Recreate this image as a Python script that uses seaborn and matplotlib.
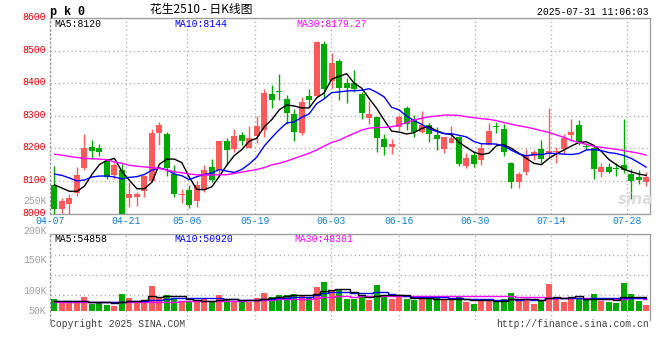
import numpy as np
import seaborn as sns
import matplotlib.pyplot as plt
from matplotlib.transforms import ScaledTranslation

sns.set_theme(style="white")
plt.rcParams['font.family'] = ['Liberation Mono', 'Noto Sans CJK SC', 'DejaVu Sans']

dates = ['04-07', '04-08', '04-09', '04-10', '04-11', '04-14', '04-15', '04-16', '04-17', '04-18',
         '04-21', '04-22', '04-23', '04-24', '04-25', '04-28', '04-29', '04-30', '05-06', '05-07',
         '05-08', '05-09', '05-12', '05-13', '05-14', '05-15', '05-16', '05-19', '05-20', '05-21',
         '05-22', '05-23', '05-26', '05-27', '05-28', '05-29', '05-30', '06-03', '06-04', '06-05',
         '06-06', '06-09', '06-10', '06-11', '06-12', '06-13', '06-16', '06-17', '06-18', '06-19',
         '06-20', '06-23', '06-24', '06-25', '06-26', '06-27', '06-30', '07-01', '07-02', '07-03',
         '07-04', '07-07', '07-08', '07-09', '07-10', '07-11', '07-14', '07-15', '07-16', '07-17',
         '07-18', '07-21', '07-22', '07-23', '07-24', '07-25', '07-28', '07-29', '07-30', '07-31']
date_ticks = ['04-07', '04-21', '05-06', '05-19', '06-03', '06-16', '06-30', '07-14', '07-28']

opens = [8089, 8014, 8030, 8064, 8140, 8204, 8201, 8161, 8119, 8133,
         8048, 8051, 8069, 8100, 8246, 8243, 8122, 8057, 8072, 8039,
         8072, 8143, 8133, 8222, 8198, 8241, 8202, 8238, 8256, 8367,
         8376, 8350, 8305, 8248, 8361, 8362, 8520, 8407, 8468, 8400,
         8400, 8366, 8294, 8295, 8230, 8205, 8266, 8323, 8289, 8251,
         8272, 8241, 8198, 8217, 8236, 8147, 8179, 8164, 8210, 8269,
         8259, 8156, 8097, 8128, 8177, 8198, 8183, 8190, 8198, 8241,
         8272, 8208, 8200, 8128, 8142, 8140, 8149, 8120, 8113, 8097]
highs = [8146, 8049, 8060, 8142, 8243, 8226, 8213, 8164, 8155, 8151,
         8097, 8066, 8117, 8258, 8280, 8251, 8149, 8074, 8087, 8100,
         8149, 8167, 8222, 8233, 8259, 8251, 8268, 8299, 8382, 8394,
         8428, 8364, 8320, 8357, 8381, 8528, 8530, 8494, 8473, 8417,
         8441, 8374, 8345, 8299, 8244, 8230, 8302, 8330, 8303, 8315,
         8279, 8267, 8236, 8269, 8238, 8185, 8188, 8215, 8279, 8282,
         8274, 8158, 8128, 8197, 8195, 8226, 8323, 8205, 8244, 8289,
         8287, 8215, 8208, 8156, 8156, 8154, 8289, 8138, 8135, 8126]
lows = [7995, 8002, 7995, 8053, 8135, 8168, 8177, 8106, 8106, 7995,
        8020, 8023, 8051, 8097, 8210, 8116, 8052, 8033, 8018, 8020,
        8066, 8097, 8115, 8149, 8190, 8210, 8202, 8215, 8236, 8323,
        8348, 8275, 8223, 8241, 8326, 8359, 8353, 8384, 8348, 8340,
        8372, 8289, 8274, 8190, 8181, 8182, 8256, 8256, 8236, 8246,
        8220, 8195, 8185, 8217, 8147, 8140, 8144, 8149, 8210, 8246,
        8177, 8077, 8077, 8118, 8164, 8156, 8174, 8154, 8183, 8223,
        8210, 8195, 8106, 8111, 8125, 8116, 8125, 8046, 8090, 8084]
closes = [8014, 8038, 8048, 8118, 8201, 8193, 8188, 8113, 8149, 8000,
          8059, 8059, 8115, 8248, 8272, 8140, 8059, 8060, 8026, 8087,
          8135, 8102, 8222, 8195, 8238, 8222, 8233, 8268, 8371, 8348,
          8372, 8307, 8251, 8343, 8348, 8525, 8383, 8463, 8386, 8386,
          8381, 8309, 8305, 8233, 8205, 8212, 8295, 8275, 8251, 8272,
          8244, 8229, 8234, 8233, 8152, 8169, 8152, 8200, 8253, 8264,
          8188, 8097, 8121, 8176, 8190, 8167, 8192, 8192, 8233, 8251,
          8220, 8205, 8136, 8142, 8128, 8137, 8135, 8100, 8103, 8111]

ma5 = [8088, 8078, 8068, 8068, 8084, 8120, 8150, 8163, 8169, 8129,
       8102, 8076, 8076, 8096, 8151, 8167, 8167, 8156, 8111, 8074,
       8073, 8082, 8114, 8148, 8178, 8196, 8222, 8231, 8266, 8288,
       8318, 8333, 8330, 8324, 8324, 8355, 8370, 8412, 8421, 8429,
       8400, 8385, 8353, 8323, 8287, 8253, 8250, 8244, 8248, 8261,
       8267, 8254, 8246, 8242, 8218, 8203, 8188, 8181, 8185, 8208,
       8211, 8200, 8185, 8169, 8154, 8150, 8169, 8183, 8195, 8207,
       8218, 8220, 8209, 8191, 8166, 8150, 8136, 8128, 8121, 8117]
ma10 = [8121, 8117, 8109, 8100, 8103, 8112, 8115, 8115, 8112, 8106,
        8111, 8113, 8120, 8133, 8140, 8134, 8121, 8116, 8104, 8113,
        8120, 8124, 8135, 8130, 8126, 8135, 8152, 8173, 8207, 8233,
        8257, 8278, 8281, 8295, 8306, 8337, 8352, 8371, 8373, 8376,
        8377, 8378, 8383, 8372, 8358, 8326, 8318, 8299, 8285, 8274,
        8260, 8252, 8245, 8245, 8240, 8235, 8221, 8214, 8214, 8213,
        8207, 8194, 8183, 8177, 8181, 8181, 8185, 8184, 8182, 8181,
        8184, 8195, 8196, 8193, 8187, 8184, 8178, 8169, 8156, 8142]
ma30 = [8182, 8179, 8175, 8172, 8169, 8168, 8167, 8165, 8158, 8154,
        8148, 8145, 8143, 8141, 8138, 8133, 8128, 8125, 8121, 8119,
        8118, 8118, 8119, 8119, 8123, 8127, 8131, 8135, 8141, 8149,
        8154, 8161, 8169, 8177, 8185, 8195, 8207, 8218, 8225, 8236,
        8246, 8256, 8262, 8264, 8264, 8266, 8272, 8279, 8287, 8292,
        8297, 8299, 8302, 8302, 8301, 8297, 8294, 8291, 8289, 8285,
        8279, 8274, 8269, 8265, 8260, 8254, 8249, 8241, 8234, 8224,
        8218, 8212, 8206, 8203, 8200, 8197, 8193, 8189, 8185, 8179]

volume = [47700, 30500, 30500, 39800, 55700, 27800, 30500, 23900, 19900, 67600,
          51700, 30500, 39800, 99400, 55700, 63600, 47700, 34500, 34500, 43700,
          47700, 34500, 63600, 47700, 39800, 37100, 37100, 51700, 72900, 55700,
          63600, 63600, 67600, 61000, 55700, 96700, 116600, 83500, 83500, 47700,
          47700, 63600, 43700, 103400, 57000, 47700, 63600, 47700, 43700, 55700,
          47700, 53000, 43700, 43700, 59600, 35800, 27800, 47700, 43700, 35800,
          47700, 71600, 39800, 47700, 27800, 39800, 107300, 55700, 35800, 47700,
          47700, 43700, 67600, 39800, 35800, 31800, 111300, 67600, 39800, 23900]
vol_ma5 = [41000, 40000, 39500, 40000, 40840, 36860, 36860, 35540, 31560, 33940,
           38720, 38720, 41900, 57800, 55420, 57800, 61240, 60180, 47200, 44800,
           41620, 38980, 44800, 47440, 46660, 44540, 45060, 42680, 47720, 50900,
           56200, 61500, 64680, 62300, 62300, 68920, 79520, 82700, 87200, 85600,
           75800, 65200, 57240, 61220, 63080, 63080, 63080, 63880, 51940, 51680,
           51680, 49560, 48760, 48760, 49540, 47160, 42120, 42920, 42920, 38160,
           40540, 49300, 47720, 48520, 46920, 45340, 52480, 55660, 53280, 57260,
           58840, 46120, 48500, 49300, 46920, 43740, 57260, 57260, 57260, 54880]
vol_ma10 = [39000, 38500, 38000, 37800, 38000, 37500, 37200, 37000, 36800, 37390,
            37790, 37790, 38720, 44680, 44680, 48260, 49980, 51040, 52500, 50110,
            49710, 50110, 52490, 47320, 45730, 43080, 42020, 43740, 47580, 48780,
            50370, 53280, 53680, 55010, 56600, 62560, 70510, 73690, 74750, 73950,
            72360, 72360, 69970, 74210, 74340, 69440, 64140, 60560, 56580, 57380,
            57380, 56320, 56320, 50350, 50610, 49420, 45840, 45840, 45840, 43850,
            43850, 45710, 45320, 45720, 42540, 42940, 50890, 51690, 50900, 52090,
            52090, 49300, 52080, 51290, 52090, 51290, 51690, 52880, 53280, 50900]
vol_ma30 = [34500, 34500, 34400, 34400, 34300, 34200, 34200, 34100, 34000, 34200,
            34500, 34700, 35000, 36000, 36500, 37000, 37500, 37800, 38000, 38500,
            39000, 39300, 40000, 40500, 41000, 41500, 42000, 43000, 44500, 45430,
            45960, 47060, 48300, 49000, 49000, 51300, 54170, 56160, 58280, 57610,
            57480, 58580, 58710, 58850, 58890, 58360, 58890, 59330, 59640, 60040,
            60040, 60650, 59990, 59860, 60520, 60470, 60160, 60030, 59060, 58390,
            57860, 58130, 57200, 56760, 55830, 53930, 53620, 52700, 51110, 51110,
            51110, 50440, 51240, 49120, 48410, 47880, 49470, 50140, 50010, 48950]

RED = '#ff5a5a'
GREEN = '#00a800'
GRID = '#b4b4b4'
W, H = 660, 360


def box(l, t, r, b):
    return [l / W, 1 - b / H, (r - l) / W, (b - t) / H]


fig = plt.figure(figsize=(6.6, 3.6), dpi=100)
ax = fig.add_axes(box(50, 18, 650, 213.5))
axv = fig.add_axes(box(50, 234, 650, 320))

x = np.arange(len(dates))
o = np.array(opens)
c = np.array(closes)
colors = np.where(c >= o, RED, GREEN)

# candles
ax.vlines(x, lows, highs, colors=colors, linewidth=1, zorder=3)
ax.bar(x, np.maximum(np.abs(c - o), 2.5), bottom=np.minimum(o, c), width=0.8,
       color=colors, linewidth=0, zorder=3)
sns.lineplot(x=x, y=ma5, ax=ax, color='black', linewidth=1, zorder=4)
sns.lineplot(x=x, y=ma10, ax=ax, color='#0000ff', linewidth=1, zorder=4)
sns.lineplot(x=x, y=ma30, ax=ax, color='#ff00ff', linewidth=1, zorder=4)

# volume
axv.bar(x, volume, width=0.8, color=colors, linewidth=0, zorder=3)
for vals, col in [(vol_ma30, '#ff00ff'), (vol_ma10, '#0000ff'), (vol_ma5, 'black')]:
    sns.lineplot(x=x, y=vals, ax=axv, color=col, linewidth=1, drawstyle='steps-mid', zorder=4)

tick_pos = [1.014 * dates.index(d) - 0.6 for d in date_ticks]
for a in (ax, axv):
    a.set_xlim(-0.5, len(dates) - 0.5)
    a.set_xticks(tick_pos)
    a.grid(True, color=GRID, linestyle=(0, (1, 2)), linewidth=1)
    for s in a.spines.values():
        s.set_color('#a0a0a0')
        s.set_linewidth(1)
    a.spines['left'].set_linestyle((0, (1, 2)))
    a.set_xlabel('')
    a.set_ylabel('')
axv.spines['bottom'].set_visible(False)

ax.set_ylim(8000, 8600)
ax.set_yticks(range(8000, 8601, 100))
ax.set_xticklabels(date_ticks)
ax.tick_params(axis='x', colors='#1080d0', labelsize=7, length=0, pad=2)
ax.tick_params(axis='y', colors='#e60000', labelsize=7, length=0, pad=3)
for lab in ax.get_yticklabels():
    lab.set_transform(lab.get_transform() + ScaledTranslation(0, 2 / 100, fig.dpi_scale_trans))

axv.set_ylim(-35800, 306000)
axv.set_yticks([63600, 143100, 222600])
axv.set_yticklabels([])
axv.set_xticklabels([])
axv.tick_params(length=0)

vol_labels = ['250K', '200K', '150K', '100K', '50K']
vol_label_y = [200.7, 231, 259.7, 290.7, 311]
for t, yy in zip(vol_labels, vol_label_y):
    fig.text(46.5 / W, 1 - yy / H, t, ha='right', va='center', fontsize=7, color='#a0a0a0')

# titles and legends
fig.text(50.5 / W, 1 - 12 / H, 'p k 0', ha='left', va='center', fontsize=8.5,
         fontweight='bold', color='black')
fig.text(201 / W, 1 - 10 / H, '花生2510 - 日K线图', ha='center', va='center', fontsize=8.5,
         family=['Noto Sans CJK SC', 'DejaVu Sans'], color='black')
fig.text(649 / W, 1 - 12 / H, '2025-07-31 11:06:03', ha='right', va='center', fontsize=7,
         color='black')
for t, xx, col in [('MA5:8120', 54.5, 'black'), ('MA10:8144', 174, '#0000ff'),
                   ('MA30:8179.27', 296, '#ff00ff')]:
    fig.text(xx / W, 1 - 24 / H, t, ha='left', va='center', fontsize=7, color=col)
for t, xx, col in [('MA5:54858', 54.5, 'black'), ('MA10:50920', 174, '#0000ff'),
                   ('MA30:48301', 294.5, '#ff00ff')]:
    fig.text(xx / W, 1 - 239 / H, t, ha='left', va='center', fontsize=7, color=col)
fig.text(50 / W, 1 - 324 / H, 'Copyright 2025 SINA.COM', ha='left', va='center',
         fontsize=7, color='#404040')
fig.text(649 / W, 1 - 324 / H, 'http://finance.sina.com.cn', ha='right', va='center',
         fontsize=7, color='#404040')
fig.text(636 / W, 1 - 200 / H, 'sina', ha='center', va='center', fontsize=11,
         style='italic', fontweight='bold', color='#dddddd', family=['DejaVu Sans'])

fig.savefig('out.png', dpi=100)
